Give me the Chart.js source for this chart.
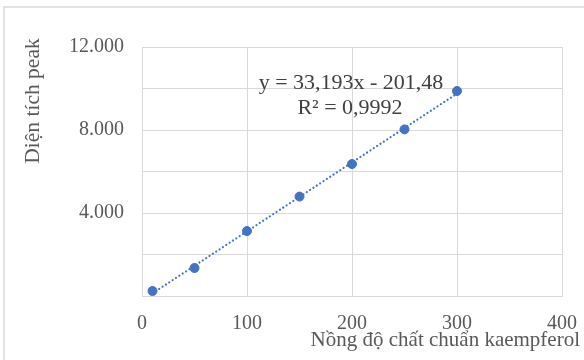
<!DOCTYPE html>
<html>
<head>
<meta charset="utf-8">
<script src="https://cdn.jsdelivr.net/npm/chart.js@4"></script>
<style>
  html, body { margin: 0; padding: 0; background: #fff; }
  #wrap { width: 584px; height: 360px; }
</style>
</head>
<body>
<div id="wrap"><canvas id="chart" width="584" height="360"></canvas></div>
<script>
// Data
const concentration = [10, 50, 100, 150, 200, 250, 300];
const peakArea = [240, 1350, 3130, 4790, 6360, 8030, 9880];

// Trendline end points (as drawn)
const trendX = [10, 300];
const trendY = [130, 9756];

const equationLines = ["y = 33,193x - 201,48", "R² = 0,9992"];
const xTitle = "Nồng độ chất chuẩn kaempferol";
const yTitle = "Diện tích peak";

const blue = "#4472C4";
const gridColor = "#d9d9d9";
const textColor = "#595959";
const serif = "'Liberation Serif', 'Times New Roman', serif";

// Format 12000 -> 12.000
function dotThousands(v) {
    return String(v).replace(/\B(?=(\d{3})+(?!\d))/g, ".");
}

// Extra drawing: outer frame, axis titles, trendline label
const extras = {
    id: "extras",
    beforeDraw(chart) {
        const c = chart.ctx;
        c.save();
        c.fillStyle = "#fff";
        c.fillRect(0, 0, chart.width, chart.height);
        c.strokeStyle = "#d9d9d9";
        c.lineWidth = 1.5;
        c.beginPath();
        c.moveTo(4, chart.height);
        c.lineTo(4, 7);
        c.lineTo(chart.width, 7);
        c.stroke();
        c.restore();
    },
    afterDraw(chart) {
        const c = chart.ctx;
        c.save();
        c.fillStyle = textColor;
        c.textBaseline = "middle";

        // y title
        c.save();
        c.font = "21.5px " + serif;
        c.translate(33, 101);
        c.rotate(-Math.PI / 2);
        c.textAlign = "center";
        c.fillText(yTitle, 0, 0);
        c.restore();

        // x title
        c.font = "21px " + serif;
        c.textAlign = "right";
        c.fillText(xTitle, 580, 340);

        // equation
        c.font = "22px " + serif;
        c.fillStyle = "#404040";
        c.textAlign = "center";
        c.fillText(equationLines[0], 351, 83);
        c.fillText(equationLines[1], 350, 108);
        c.restore();
    }
};

const ctx = document.getElementById("chart").getContext("2d");
const chart = new Chart(ctx, {
    type: "scatter",
    data: {
        datasets: [
            {
                type: "line",
                data: trendX.map((x, i) => ({ x: x, y: trendY[i] })),
                borderColor: blue,
                borderWidth: 2.2,
                borderDash: [0.01, 4],
                borderCapStyle: "round",
                pointRadius: 0,
                fill: false,
                order: 2
            },
            {
                data: concentration.map((x, i) => ({ x: x, y: peakArea[i] })),
                backgroundColor: blue,
                borderColor: blue,
                pointRadius: 4.5,
                pointHoverRadius: 4.5,
                order: 1
            }
        ]
    },
    options: {
        responsive: false,
        animation: false,
        devicePixelRatio: 1,
        layout: { padding: { top: 47, right: 22, left: 0, bottom: 0 } },
        plugins: {
            legend: { display: false },
            tooltip: { enabled: false }
        },
        scales: {
            x: {
                type: "linear",
                min: 0,
                max: 400,
                ticks: {
                    stepSize: 100,
                    padding: 16,
                    color: textColor,
                    font: { family: serif, size: 20 }
                },
                grid: { color: gridColor, drawTicks: false },
                border: { color: gridColor },
                afterFit(scale) {
                    scale.height = 64;
                    scale.paddingLeft = 0;
                    scale.paddingRight = 0;
                }
            },
            y: {
                min: 0,
                max: 12000,
                ticks: {
                    stepSize: 2000,
                    padding: 18,
                    color: textColor,
                    font: { family: serif, size: 20 },
                    callback: v => (v > 0 && v % 4000 === 0) ? dotThousands(v) : ""
                },
                grid: { color: gridColor, drawTicks: false },
                border: { color: gridColor },
                afterFit(scale) {
                    scale.width = 142;
                    scale.paddingTop = 0;
                    scale.paddingBottom = 0;
                }
            }
        }
    },
    plugins: [extras]
});
</script>
</body>
</html>
